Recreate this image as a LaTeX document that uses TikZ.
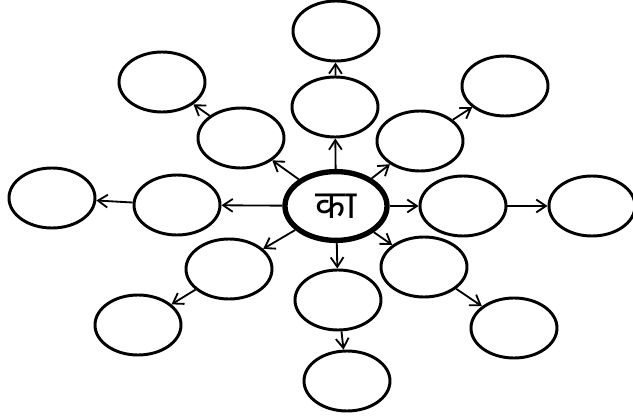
\documentclass[tikz,border=0pt]{standalone}
\usepackage{fontspec}
\newfontfamily\devfont[Script=Devanagari]{Noto Sans}
\usepackage{tikz}
\usetikzlibrary{arrows.meta,shapes.geometric}
\tikzset{
  vbub/.style={draw=black,ellipse,line width=2.1pt,minimum width=2.15cm,minimum height=1.5cm,inner sep=0pt},
  vhub/.style={vbub,line width=3.8pt,minimum width=2.55cm,minimum height=1.72cm,font=\devfont\fontsize{28}{30}\selectfont},
  varr/.style={-{Straight Barb[length=2.4mm,width=3.2mm]},line width=1.3pt,draw=black}
}

\begin{document}
\begin{tikzpicture}[x=0.025cm,y=-0.025cm]
  \useasboundingbox (0,0) rectangle (633,420);
  \node[vhub] (c) at (336,206) {का};
  % inner ring
  \node[vbub] (iN)  at (335,107) {};
  \node[vbub] (iNE) at (420,141) {};
  \node[vbub] (iE)  at (463,206) {};
  \node[vbub] (iSE) at (424,267) {};
  \node[vbub] (iS)  at (338,300) {};
  \node[vbub] (iSW) at (229,269) {};
  \node[vbub] (iW)  at (177,205) {};
  \node[vbub] (iNW) at (241,138) {};
  % outer ring
  \node[vbub] (oN)  at (336,31) {};
  \node[vbub] (oNE) at (505,86) {};
  \node[vbub] (oE)  at (592,206) {};
  \node[vbub] (oSE) at (514,328) {};
  \node[vbub] (oS)  at (347,381) {};
  \node[vbub] (oSW) at (138,325) {};
  \node[vbub] (oW)  at (52,198) {};
  \node[vbub] (oNW) at (162,82) {};
  \foreach \d in {N,NE,E,SE,S,SW,W,NW}{
    \draw[varr] (c) -- (i\d);
    \draw[varr] (i\d) -- (o\d);
  }
\end{tikzpicture}
\end{document}
